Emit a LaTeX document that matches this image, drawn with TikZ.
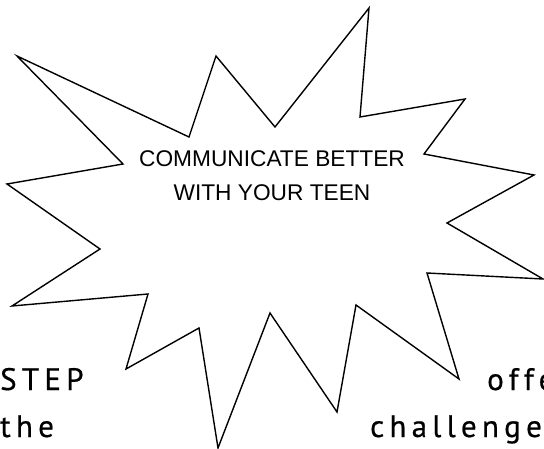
\documentclass[tikz,border=0pt]{standalone}
\usepackage{fontspec}
\setmainfont{Liberation Sans}
\newfontfamily\spacedfont[LetterSpace=17,FakeBold=0.6]{PT Sans}
\usepackage{tikz}

\begin{document}
\begin{tikzpicture}[x=1pt,y=-1pt]
                \clip (0,0) rectangle (544,449);
                \draw[black, line width=1.4pt, line join=miter]
                    (17,56) -- (189,137) -- (216,56) -- (275,127) -- (369,8) -- (360,117)
                    -- (465,99) -- (424,154) -- (534,175) -- (447,223) -- (543,279)
                    -- (427,273) -- (459,379) -- (356,305) -- (337,412) -- (270,313)
                    -- (218,448) -- (199,328) -- (126,369) -- (148,294) -- (12,306)
                    -- (100,249) -- (7,184) -- (123,164) -- cycle;
                \node[font=\fontsize{22.7}{34}\selectfont, align=center, anchor=base, inner sep=0pt] (title) at (272,201)
                    {COMMUNICATE BETTER\\WITH YOUR TEEN};
                \node[font=\spacedfont\fontsize{31}{36}\selectfont, anchor=base west, inner sep=0pt] (step) at (0,390) {STEP};
                \node[font=\spacedfont\fontsize{31}{36}\selectfont, anchor=base west, inner sep=0pt] (the) at (0,437) {the};
                \node[font=\spacedfont\fontsize{31}{36}\selectfont, anchor=base west, inner sep=0pt] (offe) at (487,390) {offe};
                \node[font=\spacedfont\fontsize{31}{36}\selectfont, anchor=base west, inner sep=0pt] (challenge) at (370,437) {challenge};
            \end{tikzpicture}
\end{document}
